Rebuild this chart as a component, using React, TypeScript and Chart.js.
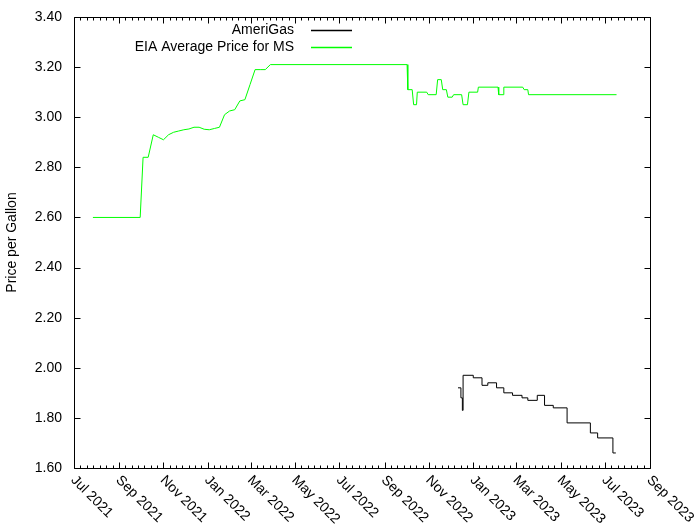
import React, { useEffect, useRef } from 'react';
import { Chart, registerables } from 'chart.js';

Chart.register(...registerables);

// ---- data ----
const amerigasDates = [
  '2022-12-11', '2022-12-15', '2022-12-17', '2022-12-18', '2023-01-01', '2023-01-13',
  '2023-01-21', '2023-02-02', '2023-02-12', '2023-02-24', '2023-03-09', '2023-03-17',
  '2023-03-30', '2023-04-09', '2023-04-21', '2023-05-10', '2023-06-11', '2023-06-21',
  '2023-07-12', '2023-07-16',
];
const amerigasPrices = [
  1.92, 1.88, 1.83, 1.97, 1.96, 1.93,
  1.94, 1.92, 1.90, 1.89, 1.88, 1.87,
  1.89, 1.85, 1.84, 1.78, 1.74, 1.72,
  1.66, 1.66,
];

const eiaDates = [
  '2021-07-27', '2021-09-30', '2021-10-04', '2021-10-11', '2021-10-18', '2021-10-25',
  '2021-11-01', '2021-11-08', '2021-11-15', '2021-11-22', '2021-11-29', '2021-12-06',
  '2021-12-13', '2021-12-20', '2021-12-27', '2022-01-03', '2022-01-10', '2022-01-17',
  '2022-01-24', '2022-01-31', '2022-02-07', '2022-02-14', '2022-02-21', '2022-02-28',
  '2022-03-07', '2022-03-14', '2022-03-21', '2022-03-28', '2022-10-02', '2022-10-03',
  '2022-10-09', '2022-10-11', '2022-10-15', '2022-10-16', '2022-10-29', '2022-10-31',
  '2022-11-11', '2022-11-13', '2022-11-18', '2022-11-20', '2022-11-25', '2022-11-27',
  '2022-12-03', '2022-12-05', '2022-12-16', '2022-12-18', '2022-12-24', '2022-12-26',
  '2023-01-07', '2023-01-08', '2023-02-04', '2023-02-05', '2023-02-11', '2023-02-12',
  '2023-03-10', '2023-03-12', '2023-03-17', '2023-03-18', '2023-07-17',
];
const eiaPrices = [
  2.60, 2.60, 2.84, 2.84, 2.93, 2.92,
  2.91, 2.93, 2.94, 2.945, 2.95, 2.953,
  2.96, 2.96, 2.952, 2.95, 2.955, 2.96,
  3.01, 3.025, 3.03, 3.065, 3.07, 3.13,
  3.19, 3.19, 3.19, 3.21, 3.21, 3.11,
  3.11, 3.05, 3.05, 3.10, 3.10, 3.09,
  3.09, 3.15, 3.15, 3.11, 3.11, 3.08,
  3.08, 3.09, 3.09, 3.05, 3.05, 3.10,
  3.10, 3.12, 3.12, 3.09, 3.09, 3.12,
  3.12, 3.11, 3.11, 3.09, 3.09,
];

const seriesLabels = ['AmeriGas', 'EIA Average Price for MS'];
const seriesColors = ['#000000', '#00ff00'];

const xTickDates = [
  '2021-07-01', '2021-09-01', '2021-11-01', '2022-01-01', '2022-03-01', '2022-05-01',
  '2022-07-01', '2022-09-01', '2022-11-01', '2023-01-01', '2023-03-01', '2023-05-01',
  '2023-07-01', '2023-09-01',
];
const xTickLabels = [
  'Jul 2021', 'Sep 2021', 'Nov 2021', 'Jan 2022', 'Mar 2022', 'May 2022',
  'Jul 2022', 'Sep 2022', 'Nov 2022', 'Jan 2023', 'Mar 2023', 'May 2023',
  'Jul 2023', 'Sep 2023',
];
const yTickValues = [1.6, 1.8, 2.0, 2.2, 2.4, 2.6, 2.8, 3.0, 3.2, 3.4];
const yTickLabels = ['1.60', '1.80', '2.00', '2.20', '2.40', '2.60', '2.80', '3.00', '3.20', '3.40'];
const yTitle = 'Price per Gallon';

// ---- helpers ----
const toMs = (s: string) => Date.parse(s + 'T00:00:00Z');
const FONT = '"Liberation Sans", Arial, sans-serif';
const MINOR_DIV = 7;

const gnuplotPlugin = {
  id: 'gnuplotFrame',
  afterDraw(chart: any) {
    const { ctx, chartArea: a } = chart;
    const xs = chart.scales.x;
    const ys = chart.scales.y;
    ctx.save();
    ctx.strokeStyle = '#000';
    ctx.lineWidth = 1;
    const L = Math.round(a.left) + 0.5;
    const R = Math.round(a.right) + 0.5;
    const T = Math.round(a.top) + 0.5;
    const B = Math.round(a.bottom) + 0.5;
    ctx.beginPath();
    ctx.rect(L, T, R - L, B - T);
    ctx.stroke();

    const major = 6;
    const minor = 3;
    ctx.beginPath();
    for (const t of ys.ticks) {
      const py = Math.round(ys.getPixelForValue(t.value)) + 0.5;
      ctx.moveTo(L, py); ctx.lineTo(L + major, py);
      ctx.moveTo(R, py); ctx.lineTo(R - major, py);
    }
    const xt = xs.ticks.map((t: any) => xs.getPixelForValue(t.value));
    xt.forEach((px: number, i: number) => {
      const p = Math.round(px) + 0.5;
      ctx.moveTo(p, B); ctx.lineTo(p, B - major);
      ctx.moveTo(p, T); ctx.lineTo(p, T + major);
      if (i < xt.length - 1) {
        const nx = xt[i + 1];
        for (let k = 1; k < MINOR_DIV; k++) {
          const q = Math.round(px + ((nx - px) * k) / MINOR_DIV) + 0.5;
          ctx.moveTo(q, B); ctx.lineTo(q, B - minor);
          ctx.moveTo(q, T); ctx.lineTo(q, T + minor);
        }
      }
    });
    ctx.stroke();

    // rotated x labels
    ctx.fillStyle = '#000';
    ctx.font = '14px ' + FONT;
    ctx.textAlign = 'left';
    ctx.textBaseline = 'middle';
    xs.ticks.forEach((t: any, i: number) => {
      const px = xs.getPixelForValue(t.value);
      ctx.save();
      ctx.translate(px - 1, a.bottom + 10);
      ctx.rotate(Math.PI / 4);
      ctx.fillText(xTickLabels[i], 0, 0);
      ctx.restore();
    });

    // legend: text right-aligned, sample line to the right
    const rows = [30, 47];
    seriesLabels.forEach((label, i) => {
      const y = rows[i];
      ctx.textAlign = 'right';
      ctx.fillStyle = '#000';
      ctx.fillText(label, 294, y);
      ctx.strokeStyle = seriesColors[i];
      ctx.lineWidth = 1.5;
      ctx.beginPath();
      ctx.moveTo(311, y + 0.5);
      ctx.lineTo(352, y + 0.5);
      ctx.stroke();
    });
    ctx.restore();
  },
};

export default function App() {
  const ref = useRef<HTMLCanvasElement | null>(null);

  useEffect(() => {
    if (!ref.current) return;
    const chart = new Chart(ref.current, {
      type: 'line',
      data: {
        datasets: [
          {
            label: seriesLabels[0],
            data: amerigasDates.map((d, i) => ({ x: toMs(d), y: amerigasPrices[i] })),
            borderColor: seriesColors[0],
            borderWidth: 1,
            pointRadius: 0,
            stepped: true,
            fill: false,
          },
          {
            label: seriesLabels[1],
            data: eiaDates.map((d, i) => ({ x: toMs(d), y: eiaPrices[i] })),
            borderColor: seriesColors[1],
            borderWidth: 1,
            pointRadius: 0,
            tension: 0,
            fill: false,
          },
        ],
      },
      options: {
        responsive: false,
        animation: false,
        devicePixelRatio: 1,
        layout: { padding: { left: 0, top: 17, right: 50, bottom: 0 } },
        plugins: { legend: { display: false }, tooltip: { enabled: false } },
        scales: {
          x: {
            type: 'linear',
            min: toMs(xTickDates[0]),
            max: toMs(xTickDates[xTickDates.length - 1]),
            afterBuildTicks: (s: any) => {
              s.ticks = xTickDates.map((d) => ({ value: toMs(d) }));
            },
            ticks: { display: false },
            grid: { display: false },
            border: { display: false },
            afterFit: (s: any) => {
              s.height = 57;
              s.paddingLeft = 0;
              s.paddingRight = 0;
            },
          },
          y: {
            type: 'linear',
            min: yTickValues[0],
            max: yTickValues[yTickValues.length - 1],
            afterBuildTicks: (s: any) => {
              s.ticks = yTickValues.map((v) => ({ value: v }));
            },
            ticks: {
              callback: (_v: any, i: number) => yTickLabels[i],
              padding: 12,
              color: '#000',
              font: { family: FONT, size: 14 },
            },
            grid: { display: false, drawTicks: false },
            border: { display: false },
            title: {
              display: true,
              text: yTitle,
              color: '#000',
              font: { family: FONT, size: 14 },
              padding: { top: 4, bottom: 0 },
            },
            afterFit: (s: any) => {
              s.width = 74;
              s.paddingTop = 0;
              s.paddingBottom = 0;
            },
          },
        },
      },
      plugins: [gnuplotPlugin],
    });
    return () => chart.destroy();
  }, []);

  return (
    <div style={{ position: 'fixed', left: 0, top: 0, width: 700, height: 525, background: '#fff' }}>
      <canvas ref={ref} width={700} height={525} style={{ display: 'block' }} />
    </div>
  );
}
